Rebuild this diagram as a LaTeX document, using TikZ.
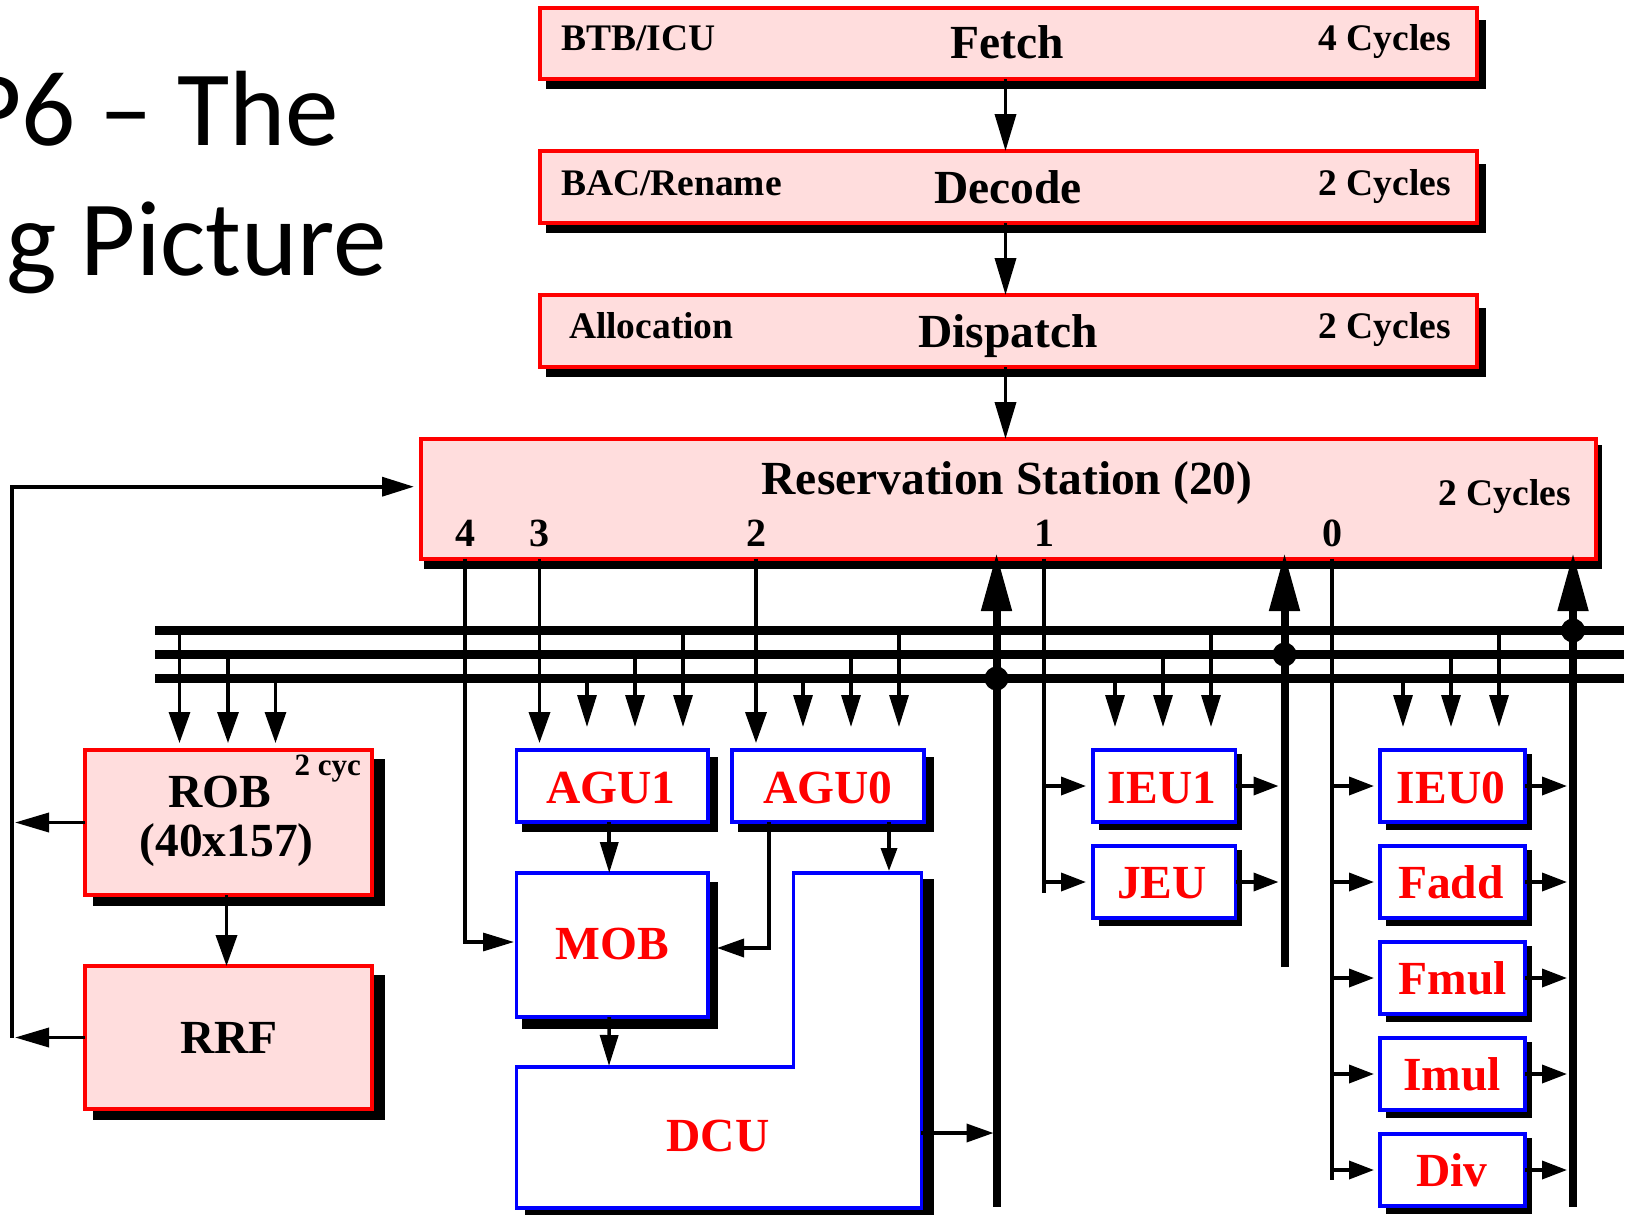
\documentclass[tikz,border=0pt]{standalone}
\usepackage{fontspec}
\setmainfont{Liberation Serif}
\newfontfamily\titlefont{Carlito}
\usetikzlibrary{arrows.meta,calc}
\definecolor{pinkfill}{HTML}{FFDDDD}
\newcommand\fsXL{\fontsize{47.5}{50}\selectfont\bfseries}
\newcommand\fsNum{\fontsize{40}{44}\selectfont\bfseries}
\newcommand\fsM{\fontsize{37.5}{40}\selectfont\bfseries}
\newcommand\fsS{\fontsize{31}{34}\selectfont\bfseries}
\newcommand\fsTitle{\titlefont\fontsize{107}{110}\selectfont}
\newcommand\blk[8]{%
  \fill[black] (#7) rectangle (#8);
  \node[#1,minimum width={(#5-#3)*1pt},minimum height={(#6-#4)*1pt}] (#2) at ({(#3+#5)/2},{(#4+#6)/2}) {};
}
\tikzset{
  redbox/.style={draw=red,fill=pinkfill,line width=3.6pt,inner sep=0pt,outer sep=0pt,rectangle},
  bluebox/.style={draw=blue,fill=white,line width=3.6pt,inner sep=0pt,outer sep=0pt,rectangle},
  lbl/.style={anchor=base,inner sep=0pt,outer sep=0pt,text=black},
  lbll/.style={lbl,anchor=base west},
  lblr/.style={lbl,anchor=base east},
  rlbl/.style={lbl,text=red,font=\fsXL},
  busbar/.style={fill=black,inner sep=0pt,outer sep=0pt,rectangle,minimum width=1469pt,minimum height=9pt},
  wire/.style={line width=3.6pt,draw=black,line cap=butt},
  thinwire/.style={line width=3.2pt,draw=black,line cap=butt},
  headL/.style={wire,-{Triangle[length=31pt,width=21pt]}},
  headT/.style={wire,-{Triangle[length=37pt,width=21pt]}},
  headM/.style={wire,-{Triangle[length=31pt,width=18pt]}},
  headH/.style={wire,-{Triangle[length=25pt,width=18pt]}},
  headU/.style={line width=8pt,draw=black,-{Triangle[length=58pt,width=29pt]}},
  thickbus/.style={line width=8pt,draw=black},
}
\begin{document}
\begin{tikzpicture}[x=1pt,y=-1pt]
\useasboundingbox (0,0) rectangle (1638,1215);
\begin{scope}
\clip (0,0) rectangle (1638,1215);
\fill[white] (0,0) rectangle (1638,1215);

% title fragments
\node[lblr,font=\fsTitle] (title1) at (339,145) {P6 – The};
\node[lblr,font=\fsTitle] (title2) at (387,275) {g Picture};

% pipeline boxes
\blk{redbox}{fetch}{540}{8}{1477}{79}{546,20}{1485.5,88.7}
\blk{redbox}{decode}{540}{151}{1477}{223}{546,164}{1485.5,232.7}
\blk{redbox}{dispatch}{540}{295}{1477}{367}{546,308}{1485.5,376.7}
\blk{redbox}{rs}{421}{439}{1596}{558.7}{424,445}{1602,569}

% retire boxes
\blk{redbox}{rob}{85}{750}{372}{895}{93,759}{385,906}
\blk{redbox}{rrf}{85}{966}{372}{1109}{93,975}{385,1120}

% memory units
\blk{bluebox}{agu1}{516.5}{750}{708}{822}{522,757}{718,832}
\blk{bluebox}{agu0}{732}{750}{924}{822}{738,757}{934,832}
\blk{bluebox}{mob}{516.5}{873}{708}{1017}{522,882}{718,1029}

% DCU L-shape
\fill[black] (921,879) rectangle (934,1215);
\fill[black] (525,1205) rectangle (934,1215);
\draw[draw=blue,fill=white,line width=3.4pt] (793.5,873) -- (921.5,873) -- (921.5,1208) -- (516.5,1208) -- (516.5,1067) -- (793.5,1067) -- cycle;
\coordinate (dcuTop) at (889,871);
\coordinate (dcuLeftTop) at (609,1066);
\coordinate (dcuEast) at (921,1133);

% execution units
\blk{bluebox}{ieu1}{1093}{750}{1235.5}{822}{1099,754}{1242,830}
\blk{bluebox}{jeu}{1093}{846}{1235.5}{918}{1099,850}{1242,926}
\blk{bluebox}{ieu0}{1380}{750}{1525}{822}{1386,754}{1532,830}
\blk{bluebox}{fadd}{1380}{846}{1525}{918}{1386,850}{1532,926}
\blk{bluebox}{fmul}{1380}{942}{1525}{1014}{1386,946}{1532,1022}
\blk{bluebox}{imul}{1380}{1038}{1525}{1110}{1386,1042}{1532,1118}
\blk{bluebox}{div}{1380}{1134}{1525}{1206}{1386,1138}{1532,1214}

% labels
\node[lbl,font=\fsXL] (lfetch) at (1007,59) {Fetch};
\node[lbll,font=\fsM] (lbtb) at (561,51) {BTB/ICU};
\node[lblr,font=\fsM] (lc4) at (1451,51) {4 Cycles};
\node[lbl,font=\fsXL] (ldecode) at (1008,203) {Decode};
\node[lbll,font=\fsM] (lbac) at (561,195) {BAC/Rename};
\node[lblr,font=\fsM] (lc2a) at (1451,195) {2 Cycles};
\node[lbl,font=\fsXL] (ldispatch) at (1008,347) {Dispatch};
\node[lbll,font=\fsM] (lalloc) at (569,338) {Allocation};
\node[lblr,font=\fsM] (lc2b) at (1451,338) {2 Cycles};
\node[lbl,font=\fsXL] (lrs) at (1007,494) {Reservation Station (20)};
\node[lblr,font=\fsM] (lc2c) at (1571,505) {2 Cycles};
\node[lbl,font=\fsNum] (d4) at (465,546) {4};
\node[lbl,font=\fsNum] (d3) at (539.5,546) {3};
\node[lbl,font=\fsNum] (d2) at (756,546) {2};
\node[lbl,font=\fsNum] (d1) at (1044,546) {1};
\node[lbl,font=\fsNum] (d0) at (1332,546) {0};
\node[lbl,font=\fsXL] (lrob) at (220,807) {ROB};
\node[lbl,font=\fsXL] (lrob2) at (226.5,856) {(40x157)};
\node[lblr,font=\fsS] (lcyc) at (361,775) {2 cyc};
\node[lbl,font=\fsXL] (lrrf) at (229,1053) {RRF};
\node[rlbl] (lagu1) at (611,803) {AGU1};
\node[rlbl] (lagu0) at (828,803) {AGU0};
\node[rlbl] (lmob) at (612,959) {MOB};
\node[rlbl] (ldcu) at (718,1151) {DCU};
\node[rlbl] (lieu1) at (1162,803) {IEU1};
\node[rlbl] (ljeu) at (1162,898) {JEU};
\node[rlbl] (lieu0) at (1451,803) {IEU0};
\node[rlbl] (lfadd) at (1451,898) {Fadd};
\node[rlbl] (lfmul) at (1453,994) {Fmul};
\node[rlbl] (limul) at (1452,1090) {Imul};
\node[rlbl] (ldiv) at (1452,1186) {Div};

% result buses
\node[busbar] (bar1) at (889.5,630.5) {};
\node[busbar] (bar2) at (889.5,654.5) {};
\node[busbar] (bar3) at (889.5,678.5) {};

% pipeline arrows
\draw[headT] ([xshift=-3pt]fetch.south) -- ([xshift=-3pt]decode.north);
\draw[headT] ([xshift=-3pt]decode.south) -- ([xshift=-3pt]dispatch.north);
\draw[headT] ([xshift=-3pt]dispatch.south) -- ([xshift=-3pt]dispatch.south |- rs.north);

% dispatch ports
\foreach \d/\y in {d3/743,d2/743}{
  \coordinate (porttip) at (\d |- 0,\y);
  \draw[headL] (\d |- rs.south) -- (porttip);
}
\coordinate (mobIn) at (514,942);
\draw[thinwire,-{Triangle[length=31pt,width=18pt]}] (d4 |- rs.south) -- (d4 |- mobIn) -- (mobIn);
\draw[thinwire] (d1 |- rs.south) -- (d1 |- 0,893);
\draw[thinwire] (d0 |- rs.south) -- (d0 |- 0,1180);

% bus taps
\foreach \x/\b in {179.5/bar1,228/bar2,275.5/bar3}{
  \coordinate (taptip) at (\x,743);
  \draw[thinwire,-{Triangle[length=31pt,width=21pt]}] (\b -| taptip) -- (taptip);
}
\foreach \x/\b in {587/bar3,635/bar2,683/bar1,803/bar3,851/bar2,899/bar1,1115/bar3,1163/bar2,1211/bar1,1403/bar3,1451/bar2,1499/bar1}{
  \coordinate (taptip) at (\x,727);
  \draw[thinwire,-{Triangle[length=32pt,width=19pt]}] (\b -| taptip) -- (taptip);
}

% writeback buses
\coordinate (w1b) at (996.5,1206.5);
\coordinate (w2b) at (1284.5,967);
\coordinate (w3b) at (1573,1206.5);
\foreach \w in {w1b,w2b,w3b}{
  \coordinate (wtip) at (\w |- 0,553);
  \draw[headU] (\w) -- (wtip);
}
\fill[black] (w1b |- bar3) circle (12);
\fill[black] (w2b |- bar2) circle (12);
\fill[black] (w3b |- bar1) circle (12);

% execution inputs and outputs
\foreach \b in {ieu1,jeu}{
  \draw[headH] (d1 |- \b.west) -- ([xshift=-7pt]\b.west);
  \draw[headH] (\b.east) -- ([xshift=-6pt]w2b |- \b.east);
}
\foreach \b in {ieu0,fadd,fmul,imul,div}{
  \draw[headH] (d0 |- \b.west) -- ([xshift=-6pt]\b.west);
  \draw[headH] (\b.east) -- ([xshift=-6pt]w3b |- \b.east);
}

% memory arrows
\draw[headM] ([xshift=-3pt]agu1.south) -- ([xshift=-3pt]mob.north);
\draw[wire,-{Triangle[length=23pt,width=16pt]}] (dcuTop |- agu0.south) -- (dcuTop);
\coordinate (aguTurn) at (769,948);
\draw[wire,-{Triangle[length=27pt,width=18pt]}] (aguTurn |- agu0.south) -- (aguTurn) -- ([xshift=9pt]mob.east |- aguTurn);
\draw[headM] ([xshift=-3pt]mob.south) -- (dcuLeftTop);
\draw[wire,-{Triangle[length=27pt,width=18pt]}] (dcuEast) -- ([xshift=-3pt]w1b |- dcuEast);

% retire arrows
\draw[headL] ([xshift=-2pt]rob.south) -- ([xshift=-2pt]rrf.north);
\coordinate (loopB) at (12,1037.5);
\coordinate (loopT) at (12,486.7);
\coordinate (rsIn) at (414,486.7);
\draw[wire,-{Triangle[length=32pt,width=19pt]}] (loopB) -- (loopT) -- (rsIn);
\draw[wire,-{Triangle[length=34pt,width=19pt]}] (rob.west) -- ([xshift=3pt]loopT |- rob.west);
\draw[wire,-{Triangle[length=34pt,width=19pt]}] (rrf.west) -- ([xshift=3pt]loopB |- rrf.west);
\end{scope}
\end{tikzpicture}
\end{document}
